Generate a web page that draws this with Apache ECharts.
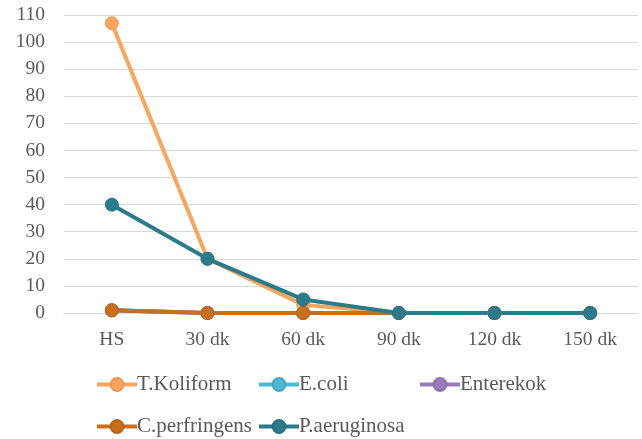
<!DOCTYPE html>
<html><head><meta charset="utf-8">
<script src="https://cdn.jsdelivr.net/npm/echarts@6/dist/echarts.min.js"></script>
<style>html,body{margin:0;padding:0;background:#fff}#c{width:642px;height:439px}</style>
</head><body><div id="c"></div>
<script>
const categories = ['HS', '30 dk', '60 dk', '90 dk', '120 dk', '150 dk'];
const tKoliform = [107, 20, 3, 0, 0, 0];
const eColi = [1, 0, 0, 0, 0, 0];
const enterekok = [1, 0, 0, 0, 0, 0];
const cPerfringens = [1, 0, 0, 0, 0, 0];
const pAeruginosa = [40, 20, 5, 0, 0, 0];
const seriesNames = ['T.Koliform', 'E.coli', 'Enterekok', 'C.perfringens', 'P.aeruginosa'];
const seriesData = [tKoliform, eColi, enterekok, cPerfringens, pAeruginosa];
const colors = ['#FAA55C', '#4DB8D3', '#9A7CB9', '#C96F1B', '#2A7B8C'];
const borders = ['#E89A55', '#47A9C2', '#8E72AA', '#B76519', '#27707F'];

const font = 'Liberation Serif, Times New Roman, serif';
const legendPos = [[95, 374], [257, 374], [418, 374], [95, 416], [257, 416]];

const chart = echarts.init(document.getElementById('c'), null, {renderer: 'canvas'});
chart.setOption({
  animation: false,
  color: colors,
  grid: {left: 64, right: 4, top: 15, bottom: 126},
  legend: seriesNames.map((n, i) => ({
    data: [n], left: legendPos[i][0], top: legendPos[i][1],
    padding: 0,
    itemWidth: 40, itemHeight: 16, itemGap: 0,
    lineStyle: {width: 4},
    textStyle: {fontFamily: font, fontSize: 21, color: '#595959', padding: [0, 0, 0, -5]}
  })),
  xAxis: {
    type: 'category', data: categories, boundaryGap: true,
    axisLine: {lineStyle: {color: '#d9d9d9', width: 1}},
    axisTick: {show: false},
    axisLabel: {fontFamily: font, fontSize: 19.5, color: '#595959', margin: 17}
  },
  yAxis: {
    type: 'value', min: 0, max: 110, interval: 10,
    axisLine: {show: false}, axisTick: {show: false},
    splitLine: {lineStyle: {color: '#d9d9d9', width: 1}},
    axisLabel: {fontFamily: font, fontSize: 19.5, color: '#595959', margin: 19}
  },
  series: seriesNames.map((n, i) => ({
    name: n, type: 'line', data: seriesData[i],
    symbol: 'circle', symbolSize: 13,
    lineStyle: {width: 4, color: colors[i]},
    itemStyle: {color: colors[i], borderColor: borders[i], borderWidth: 1}
  }))
});
</script></body></html>
